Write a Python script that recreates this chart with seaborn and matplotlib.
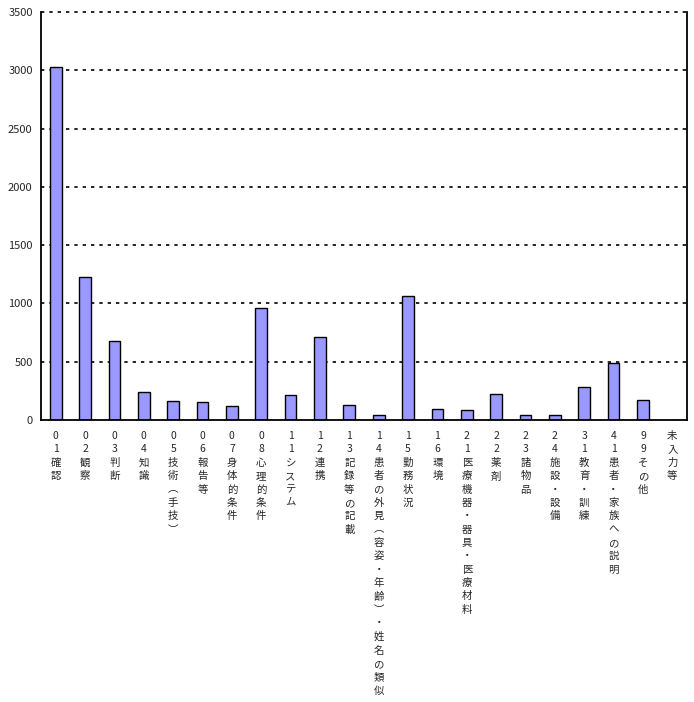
import pandas as pd
import matplotlib
matplotlib.use("Agg")
import matplotlib.pyplot as plt
import seaborn as sns

# 発生要因ごとの件数
labels = [
    "01確認", "02観察", "03判断", "04知識", "05技術︵手技︶", "06報告等",
    "07身体的条件", "08心理的条件", "11システム", "12連携", "13記録等の記載",
    "14患者の外見︵容姿・年齢︶・姓名の類似", "15勤務状況", "16環境",
    "21医療機器・器具・医療材料", "22薬剤", "23諸物品", "24施設・設備",
    "31教育・訓練", "41患者・家族への説明", "99その他", "未入力等",
]
values = [3025, 1223, 675, 237, 160, 151, 117, 957, 211, 709, 126,
          40, 1068, 91, 83, 220, 40, 40, 280, 488, 169, 0]

df = pd.DataFrame({"要因": labels, "件数": values})

sns.set_style("white")
plt.rcParams["font.family"] = ["Noto Sans CJK JP", "DejaVu Sans"]

fig = plt.figure(figsize=(6.94, 7.02), dpi=100)
ax = fig.add_axes([41 / 694, (702 - 420) / 702, (687 - 41) / 694, (420 - 12) / 702])

sns.barplot(data=df, x="要因", y="件数", color="#9999ff", saturation=1,
            width=0.4, edgecolor="black", linewidth=1, ax=ax)

ax.set_ylim(0, 3500)
ax.set_xlim(-0.5, len(labels) - 0.5)
ax.set_yticks(range(0, 3501, 500))
ax.yaxis.grid(True, linestyle=(0, (2, 3)), color="black", linewidth=1.2)
grid = ax.yaxis.get_gridlines()
grid[0].set_visible(False)
grid[-1].set_clip_on(False)
ax.set_axisbelow(True)
ax.set_xlabel("")
ax.set_ylabel("")

# 縦書きラベル
ax.set_xticks(range(len(labels)))
ax.set_xticklabels(["\n".join(s) for s in labels], fontsize=7.5,
                   va="top", ha="center", linespacing=1.42)
ax.set_xticks([i + 0.5 for i in range(len(labels) - 1)], minor=True)
ax.tick_params(axis="x", which="major", length=0, pad=8)
ax.tick_params(axis="x", which="minor", direction="in", length=3, width=1, color="black")
ax.tick_params(axis="y", direction="in", length=4, width=1, color="black",
               labelsize=8, pad=6)

for side in ["left", "bottom", "right"]:
    ax.spines[side].set_visible(True)
    ax.spines[side].set_color("black")
    ax.spines[side].set_linewidth(1.3)
ax.spines["top"].set_visible(False)

fig.savefig("out.png", dpi=100)
